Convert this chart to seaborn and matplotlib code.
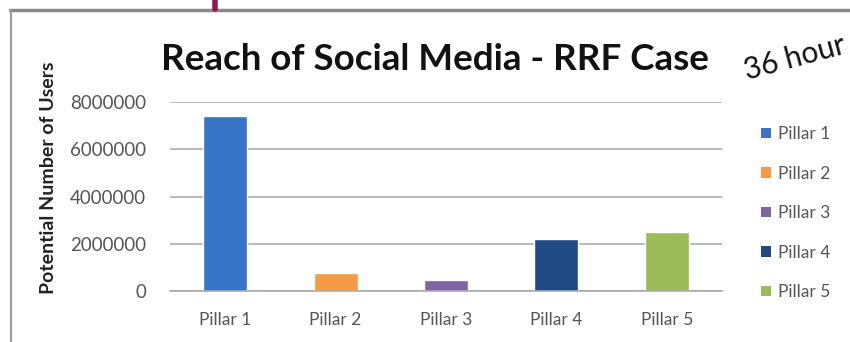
import matplotlib
matplotlib.use("Agg")
import matplotlib.pyplot as plt
from matplotlib.lines import Line2D
from matplotlib.patches import Patch
from matplotlib.ticker import FixedLocator
import seaborn as sns

# data
pillars = ["Pillar 1", "Pillar 2", "Pillar 3", "Pillar 4", "Pillar 5"]
users = [7400000, 750000, 450000, 2200000, 2500000]
colors = ["#3874c8", "#f59a45", "#8064a2", "#1f4a84", "#9bbb59"]
y_ticks = [0, 2000000, 4000000, 6000000, 8000000]

sns.set_style("white")
plt.rcParams["font.family"] = ["Lato", "DejaVu Sans"]

fig = plt.figure(figsize=(8.5, 3.42), dpi=100)
ax = fig.add_axes([0.2, 0.149, 0.6494, 0.5526])

sns.barplot(x=pillars, y=users, hue=pillars, palette=colors, width=0.4,
            dodge=False, legend=False, saturation=1, ax=ax)

ax.set_ylim(0, 8000000)
ax.set_xlim(-0.5, len(pillars) - 0.5)
ax.set_yticks(y_ticks)
ax.set_yticklabels([str(v) for v in y_ticks])
ax.yaxis.grid(True, color="#a6a6a6", linewidth=1.1)
ax.set_axisbelow(True)
for s in ["top", "right", "left"]:
    ax.spines[s].set_visible(False)
ax.spines["bottom"].set_color("#a6a6a6")
ax.spines["bottom"].set_linewidth(1.1)

ax.tick_params(axis="x", which="major", length=0, pad=15, labelsize=12.5,
               labelcolor="#555555")
ax.xaxis.set_minor_locator(FixedLocator([i - 0.5 for i in range(len(pillars) + 1)]))
ax.tick_params(axis="x", which="minor", length=5, color="#a6a6a6", width=1.1,
               direction="out")
ax.tick_params(axis="y", length=0, pad=17, labelsize=13.5, labelcolor="#555555")

ax.set_ylabel("Potential Number of Users", fontsize=14, fontweight="bold",
              color="#222222")
ax.yaxis.set_label_coords(-0.205, 0.6)

fig.text(0.512, 0.825, "Reach of Social Media - RRF Case", ha="center",
         va="center", fontsize=26.5, fontweight="bold", color="#111111")
# the note is cut by the edge of the original slide; only "36 hour" shows
fig.text(0.879, 0.765, "36 hour", ha="left", va="baseline", fontsize=21.5,
         rotation=15, rotation_mode="anchor", color="#111111")

handles = [Patch(facecolor=c, edgecolor="none") for c in colors]
fig.legend(handles, pillars, loc="center left", bbox_to_anchor=(0.877, 0.377),
           frameon=False, fontsize=12.5, labelcolor="#555555",
           handlelength=0.55, handleheight=0.55, handletextpad=0.4,
           labelspacing=1.35)

# frame around the slide area
fig.add_artist(Line2D([0.012, 1.0], [0.972, 0.972], color="#8a8a8a", lw=2.5))
fig.add_artist(Line2D([0.013, 0.013], [0.0, 0.972], color="#9a9a9a", lw=1.5))
fig.add_artist(Line2D([0.253, 0.253], [0.975, 1.0], color="#8b1a4f", lw=4))

fig.savefig("out.png", dpi=100)
